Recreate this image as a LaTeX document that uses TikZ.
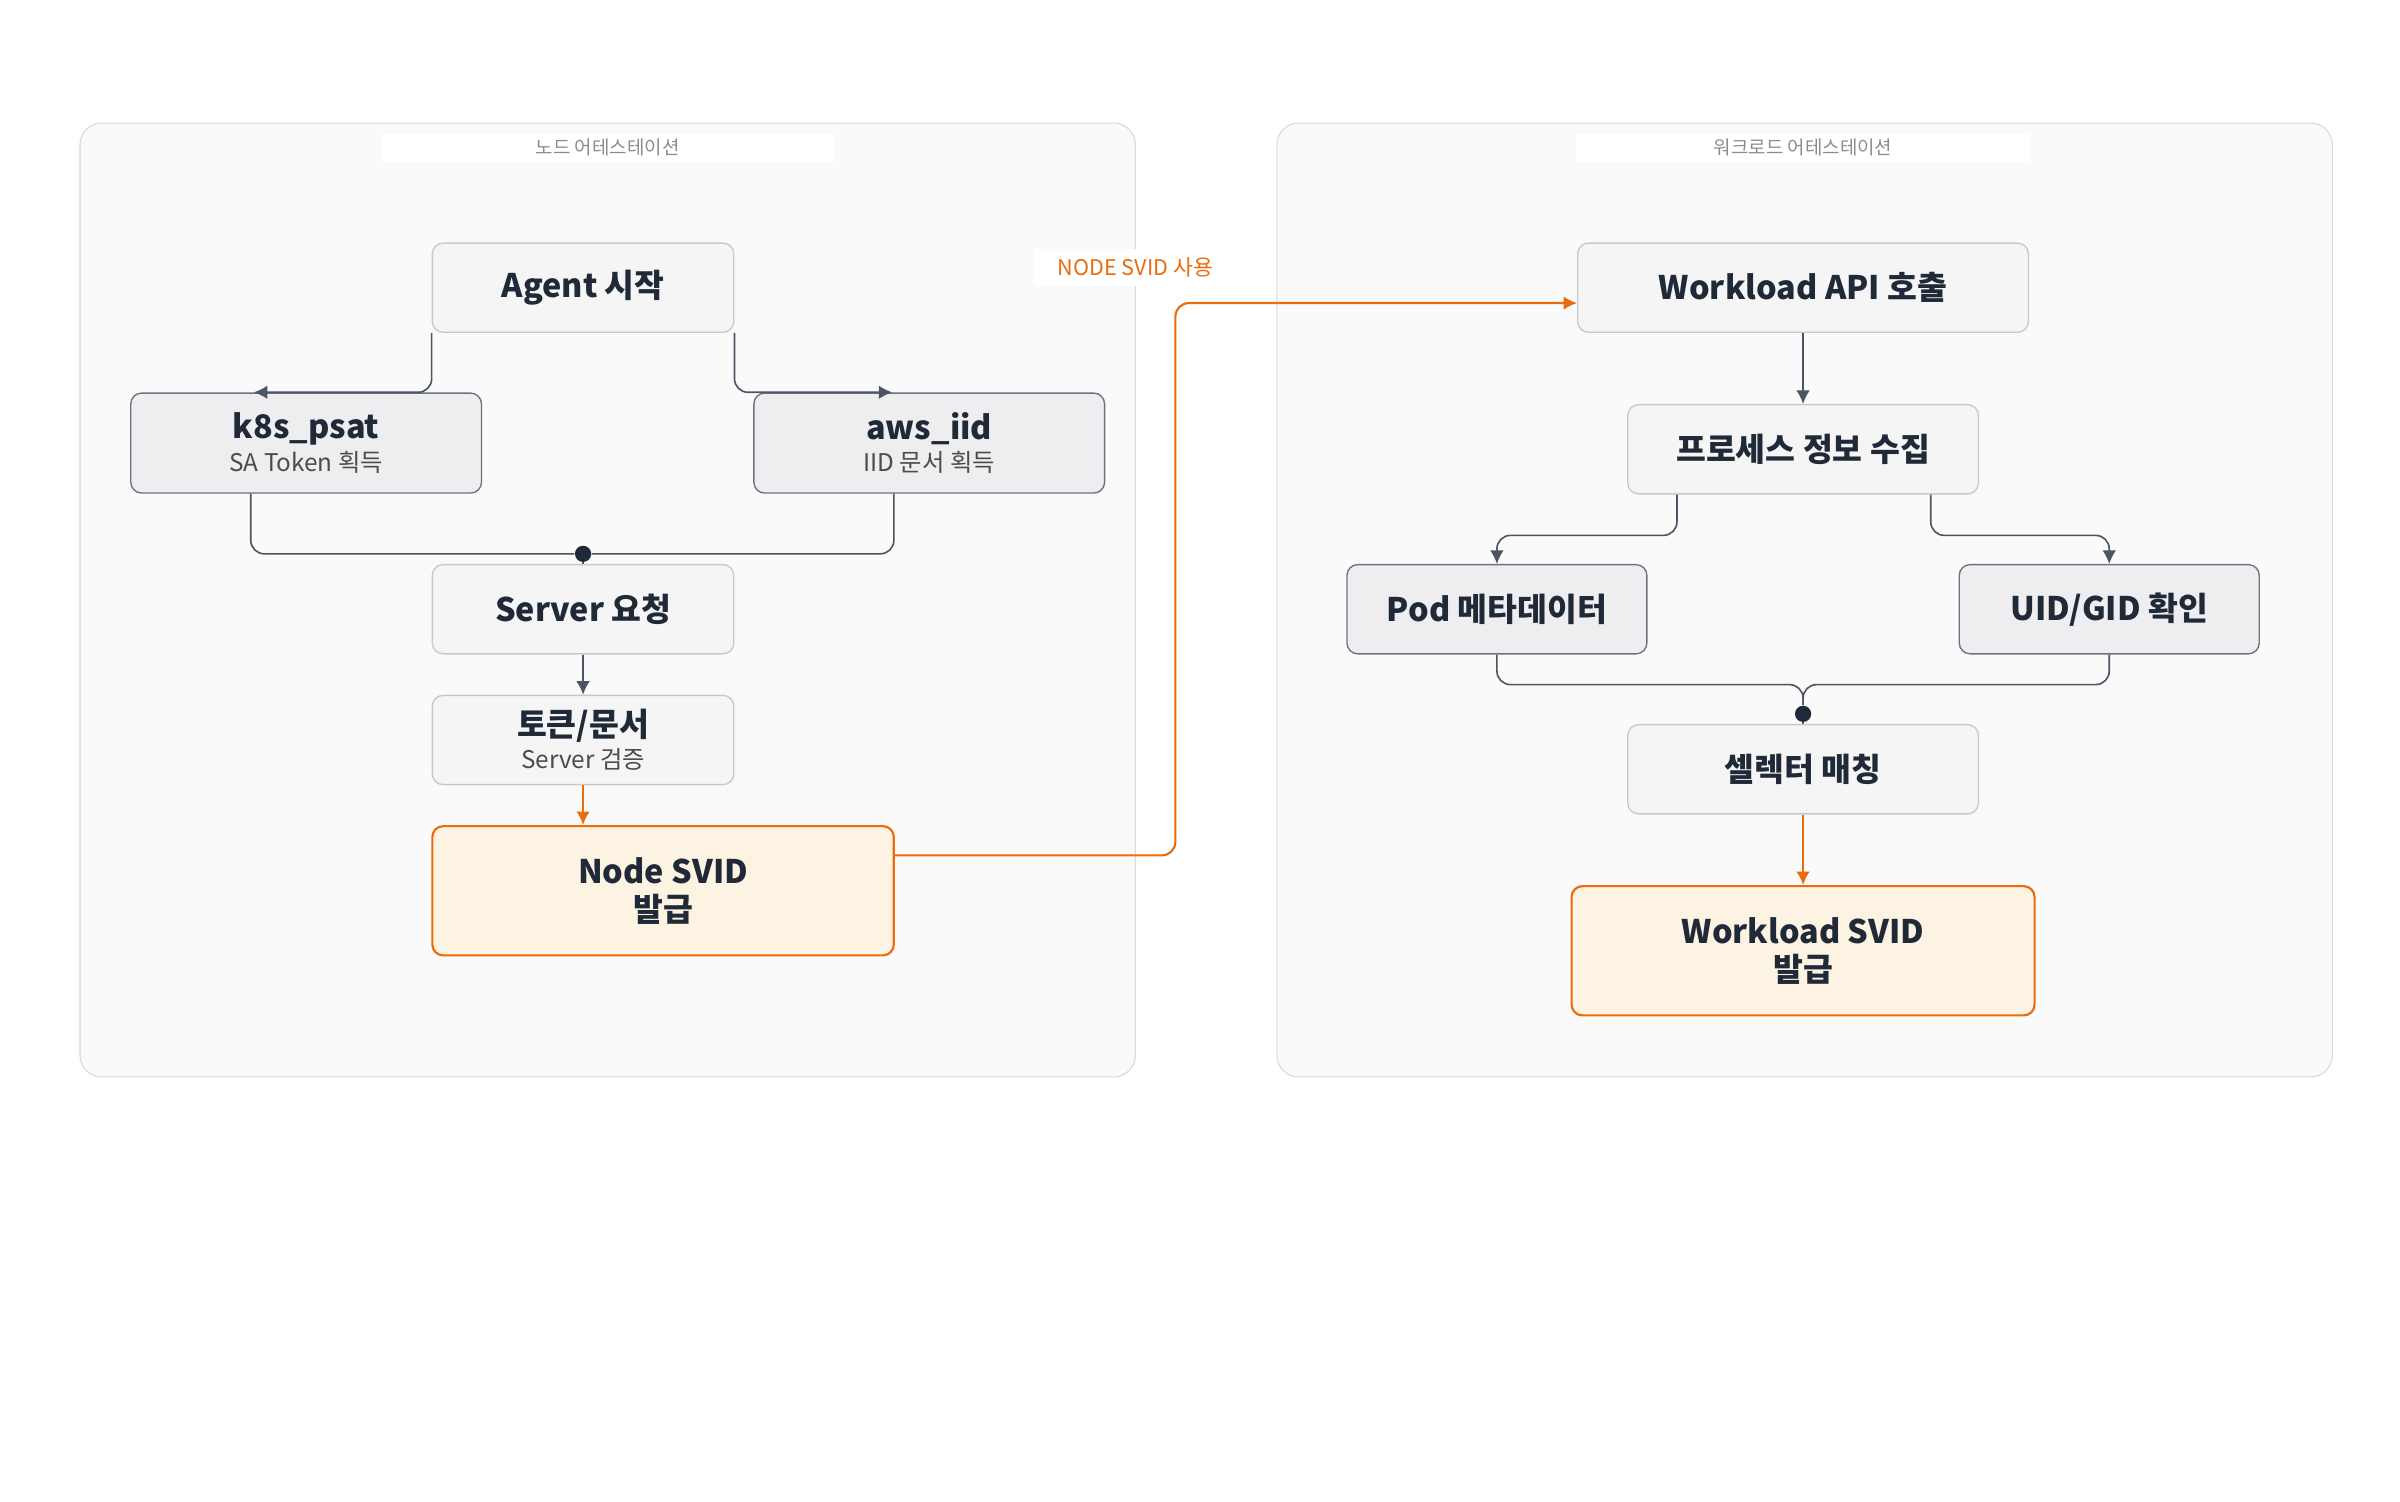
\documentclass[tikz,border=0pt]{standalone}
\usepackage{fontspec}
\setmainfont{Noto Sans CJK KR}
\usetikzlibrary{arrows.meta, positioning}

\definecolor{inkdark}{HTML}{1F2937}
\definecolor{boxfill}{HTML}{F5F5F5}
\definecolor{boxline}{HTML}{C9C9CC}
\definecolor{keyfill}{HTML}{EEEEF0}
\definecolor{keyline}{HTML}{6B7280}
\definecolor{orfill}{HTML}{FDF3E2}
\definecolor{orline}{HTML}{EA6C0C}
\definecolor{edgegray}{HTML}{4B5563}

\newcommand{\subtext}[1]{{\fontsize{9}{10}\selectfont\mdseries\color{black!70}#1}}

\tikzset{
    box/.style = {draw = boxline, fill = boxfill, rounded corners = 4pt,
        line width = 0.5pt, text = inkdark, font = \fontsize{12}{14}\selectfont\bfseries,
        align = center, inner sep = 0pt},
    key/.style = {box, draw = keyline, fill = keyfill},
    issue/.style = {box, draw = orline, fill = orfill, line width = 0.8pt},
    group/.style = {draw = boxline!70, fill = black!2, rounded corners = 8pt, line width = 0.4pt},
    grouplabel/.style = {fill = white, text = black!45, font = \fontsize{7}{8}\selectfont,
        minimum width = 5.9cm, minimum height = 0.36cm, inner sep = 0pt},
    flow/.style = {draw = edgegray, line width = 0.6pt, rounded corners = 5pt, -{Latex[length=5pt, width=5pt]}},
    link/.style = {draw = edgegray, line width = 0.6pt, rounded corners = 5pt},
    hot/.style = {flow, draw = orline, line width = 0.8pt},
    dot/.style = {circle, fill = inkdark, inner sep = 0pt, minimum size = 6pt}
}

\begin{document}
\begin{tikzpicture}[x = 0.02cm, y = -0.02cm]

    \useasboundingbox (0, 0) rectangle (1560, 976);

    % The two attestation groups.
    \draw[group] (52, 80) rectangle (738, 700);
    \draw[group] (830, 80) rectangle (1516, 700);
    \node[grouplabel] (nodeTitle) at (395, 96) {노드 어테스테이션};
    \node[grouplabel] (wlTitle) at (1172, 96) {워크로드 어테스테이션};

    % Node attestation steps.
    \node[box, minimum width = 3.92cm, minimum height = 1.16cm] (agent) at (379, 187) {Agent 시작};
    \node[key, minimum width = 4.56cm, minimum height = 1.3cm] (psat) at (199, 288)
        {k8s\_psat\\[-2pt]\subtext{SA Token 획득}};
    \node[key, minimum width = 4.56cm, minimum height = 1.3cm] (iid) at (604, 288)
        {aws\_iid\\[-2pt]\subtext{IID 문서 획득}};
    \node[dot] (nodeJoin) at (379, 360) {};
    \node[box, minimum width = 3.92cm, minimum height = 1.16cm] (request) at (379, 396) {Server 요청};
    \node[box, minimum width = 3.92cm, minimum height = 1.16cm] (verify) at (379, 481)
        {토큰/문서\\[-2pt]\subtext{Server 검증}};
    \node[issue, minimum width = 6cm, minimum height = 1.68cm] (nodeSvid) at (431, 579)
        {Node SVID\\발급};

    % Workload attestation steps.
    \node[box, minimum width = 5.86cm, minimum height = 1.16cm] (api) at (1172, 187) {Workload API 호출};
    \node[box, minimum width = 4.56cm, minimum height = 1.16cm] (proc) at (1172, 292) {프로세스 정보 수집};
    \node[key, minimum width = 3.9cm, minimum height = 1.16cm] (pod) at (973, 396) {Pod 메타데이터};
    \node[key, minimum width = 3.9cm, minimum height = 1.16cm] (uid) at (1371, 396) {UID/GID 확인};
    \node[dot] (wlJoin) at (1172, 464) {};
    \node[box, minimum width = 4.56cm, minimum height = 1.16cm] (match) at (1172, 500) {셀렉터 매칭};
    \node[issue, minimum width = 6.02cm, minimum height = 1.68cm] (wlSvid) at (1172, 618)
        {Workload SVID\\발급};

    % Connectors, node side.
    \coordinate (psatIn) at (165, 255);
    \coordinate (iidIn) at (580, 255);
    \draw[flow] (agent.south west) |- (psatIn);
    \draw[flow] (agent.south east) |- (iidIn);
    \draw[link] ([xshift = -0.72cm] psat.south) |- (nodeJoin);
    \draw[link] ([xshift = -0.46cm] iid.south) |- (nodeJoin);
    \draw[link] (nodeJoin) -- (request);
    \draw[flow] (request) -- (verify);
    \draw[hot] (verify) -- (nodeSvid.north -| verify);

    % Cross-group link.
    \coordinate (bend) at (764, 197);
    \draw[hot] ([yshift = 0.46cm] nodeSvid.east) -| (bend) -- (bend -| api.west);
    \node[fill = white, text = orline, font = \fontsize{8}{9}\selectfont,
        minimum width = 2.6cm] (useLabel) at (738, 174) {NODE SVID 사용};

    % Connectors, workload side.
    \draw[flow] (api) -- (proc);
    \draw[flow] ([xshift = -1.64cm] proc.south) |- (1050, 348) -| (pod.north);
    \draw[flow] ([xshift = 1.66cm] proc.south) |- (1300, 348) -| (uid.north);
    \draw[link] (pod.south) |- (1100, 445) -| (wlJoin);
    \draw[link] (uid.south) |- (1250, 445) -| (wlJoin);
    \draw[link] (wlJoin) -- (match);
    \draw[hot] (match) -- (wlSvid);

\end{tikzpicture}
\end{document}
